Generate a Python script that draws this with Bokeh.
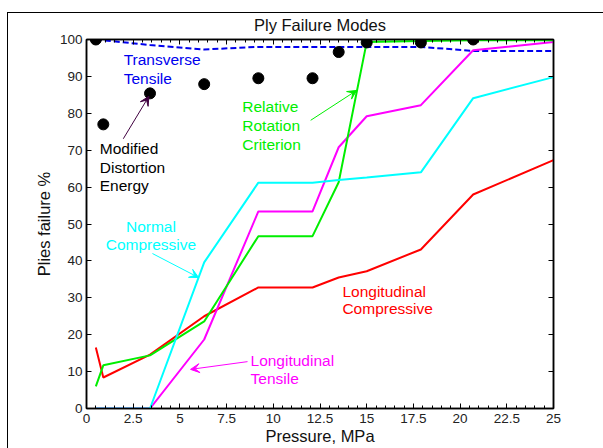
from bokeh.plotting import figure
from bokeh.models import (Range1d, LinearAxis, SingleIntervalTicker, CustomJSTickFormatter,
                          Label, Arrow, VeeHead, InlineStyleSheet)
from bokeh.embed import file_html
from bokeh.resources import INLINE

# ---- data ----
pressure = [0.5, 0.9, 3.4, 6.3, 9.2, 12.1, 13.5, 15.0, 17.9, 20.7, 25.0]
mde_pressure = [0.5, 0.9, 3.4, 6.3, 9.2, 12.1, 13.5, 15.0, 17.9, 20.7]
mde = [100, 77.0, 85.4, 87.9, 89.5, 89.5, 96.6, 99.2, 99.2, 100]
long_comp = [16.5, 8.4, 14.6, 25.0, 32.8, 32.8, 35.5, 37.2, 43.1, 58.0, 67.3]
long_tens = [0, 0, 0, 18.7, 53.4, 53.4, 70.8, 79.2, 82.2, 97.1, 99.3]
norm_comp = [0, 0, 0, 39.6, 61.2, 61.2, 61.9, 62.6, 64.0, 84.1, 89.8]
rel_rot = [6.0, 11.7, 14.4, 23.6, 46.7, 46.7, 61.3, 99.3, 99.6, 99.8, 99.8]
trans_tens = [100, 99.8, 98.5, 97.3, 98.0, 98.0, 98.0, 98.0, 98.0, 96.9, 96.9]

FONT = "Liberation Sans"
RED, MAG, CYAN, GREEN, BLUE = "#ff0000", "#ff00ff", "#00ffff", "#00ee00", "#0000ee"

W, H = 595, 448
p = figure(width=W, height=H, output_backend="svg", toolbar_location=None,
           x_range=Range1d(0, 25), y_range=Range1d(0, 100),
           min_border_left=86, min_border_right=42, min_border_top=39, min_border_bottom=40)
# outer figure frame (top and left edges) drawn over the canvas margin
p.stylesheets = [InlineStyleSheet(css="""
:host { position: relative; }
:host::after { content: ""; position: absolute; left: 7px; top: 12px; right: -20px; bottom: -20px;
  border-top: 1px solid black; border-left: 1px solid black; pointer-events: none; }
""")]

p.title.text = "Ply Failure Modes"
p.title.align = "center"
p.title.text_font = FONT
p.title.text_font_size = "16.5px"
p.title.text_font_style = "normal"
p.title.text_color = "#111111"
p.title.standoff = 12
p.title.offset = 0

p.grid.visible = False
p.outline_line_color = "black"
p.outline_line_width = 1.5
p.background_fill_color = "white"
p.border_fill_color = "white"

fmt = CustomJSTickFormatter(code="return tick.toString();")
blank = CustomJSTickFormatter(code="return '';")

def style_axis(ax):
    ax.axis_line_width = 1.5
    ax.axis_line_color = "black"
    ax.major_tick_in = 5
    ax.major_tick_out = 0
    ax.minor_tick_in = 3
    ax.minor_tick_out = 0
    ax.major_tick_line_color = "black"
    ax.minor_tick_line_color = "black"
    ax.major_label_text_font = FONT
    ax.major_label_text_font_size = "13.5px"
    ax.major_label_text_color = "#222222"
    ax.major_label_standoff = 4
    ax.axis_label_text_font = FONT
    ax.axis_label_text_font_size = "16.5px"
    ax.axis_label_text_font_style = "normal"
    ax.axis_label_text_color = "#111111"
    ax.axis_label_standoff = 1

xax = p.xaxis[0]
xax.ticker = SingleIntervalTicker(interval=2.5, num_minor_ticks=5)
xax.formatter = fmt
xax.axis_label = "Pressure, MPa"
style_axis(xax)
xax.major_label_standoff = 5

yax = p.yaxis[0]
yax.ticker = SingleIntervalTicker(interval=10, num_minor_ticks=0)
yax.axis_label = "Plies failure %"
style_axis(yax)
yax.axis_label_standoff = 4

top = LinearAxis(ticker=SingleIntervalTicker(interval=2.5, num_minor_ticks=5), formatter=blank)
style_axis(top)
top.major_label_standoff = 0
p.add_layout(top, "above")
right = LinearAxis(ticker=SingleIntervalTicker(interval=10, num_minor_ticks=0), formatter=blank)
style_axis(right)
right.major_label_standoff = 0
p.add_layout(right, "right")

# ---- series ----
p.line(pressure, trans_tens, color=BLUE, line_width=2, line_dash="6 3")
p.line(pressure, long_comp, color=RED, line_width=2)
p.line(pressure, long_tens, color=MAG, line_width=2)
p.line(pressure, rel_rot, color=GREEN, line_width=2)
p.line(pressure, norm_comp, color=CYAN, line_width=2)
p.scatter(mde_pressure, mde, size=11, color="black")

# ---- annotations ----
def lab(x, y, t, c, align="left"):
    p.add_layout(Label(x=x, y=y, text=t, text_color=c, text_font=FONT,
                       text_font_size="15.5px", text_baseline="middle", text_align=align))

lab(1.99, 94.6, "Transverse", BLUE)
lab(1.99, 89.4, "Tensile", BLUE)
lab(0.71, 70.4, "Modified", "black")
lab(0.71, 65.4, "Distortion", "black")
lab(0.71, 60.5, "Energy", "black")
lab(8.34, 81.9, "Relative", GREEN)
lab(8.34, 76.7, "Rotation", GREEN)
lab(8.34, 71.6, "Criterion", GREEN)
lab(3.45, 49.4, "Normal", CYAN, "center")
lab(3.45, 44.4, "Compressive", CYAN, "center")
lab(13.7, 31.8, "Longitudinal", RED)
lab(13.7, 27.0, "Compressive", RED)
lab(8.78, 13.0, "Longitudinal", MAG)
lab(8.78, 8.2, "Tensile", MAG)

def arr(x0, y0, x1, y1, c):
    p.add_layout(Arrow(x_start=x0, y_start=y0, x_end=x1, y_end=y1, line_color=c, line_width=1,
                       end=VeeHead(size=9, line_color=c, fill_color=c, line_width=1)))

arr(1.97, 73.1, 3.34, 84.6, "#400040")
arr(12.0, 78.1, 14.46, 86.2, GREEN)
arr(3.53, 42.0, 6.0, 35.5, CYAN)
arr(8.62, 12.7, 5.57, 10.6, MAG)

open("out.html", "w").write(file_html(p, INLINE))
